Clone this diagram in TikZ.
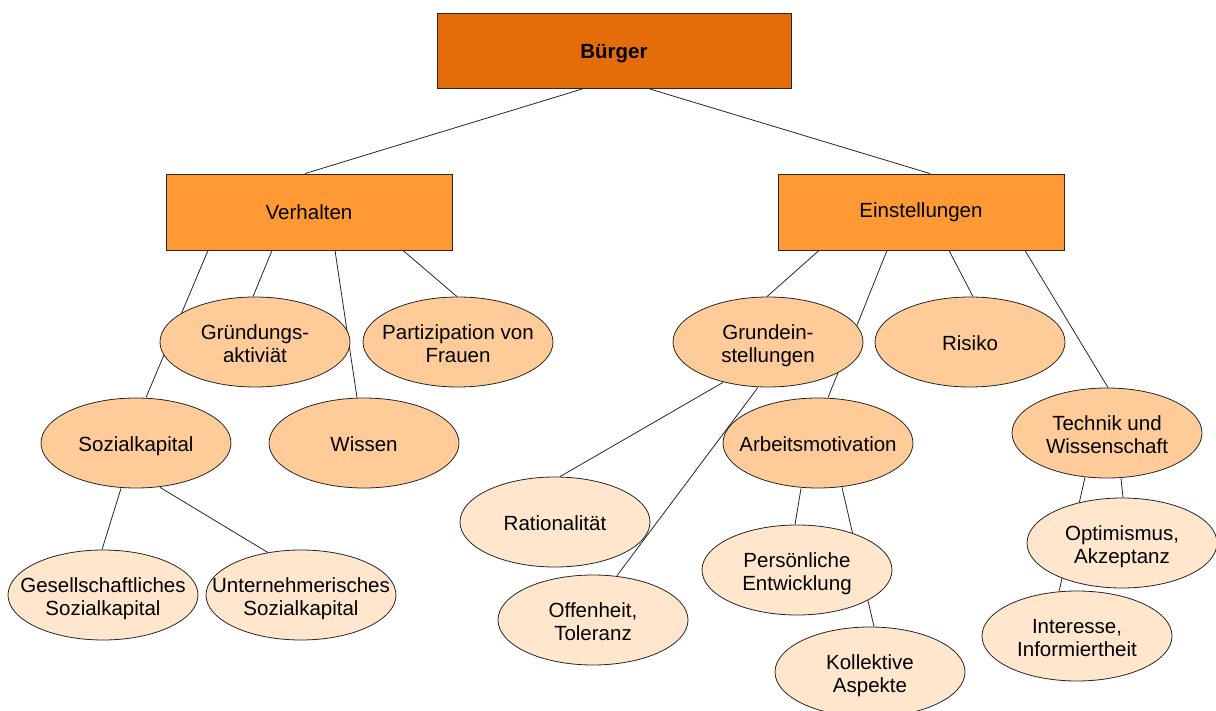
\documentclass[tikz,border=0pt]{standalone}
\usepackage{fontspec}
\setmainfont{Liberation Sans}
\usetikzlibrary{shapes.geometric}
\pgfdeclarelayer{background}
\pgfsetlayers{background,main}
\definecolor{topc}{RGB}{228,108,10}
\definecolor{midc}{RGB}{254,153,51}
\definecolor{elA}{RGB}{255,204,153}
\definecolor{elB}{RGB}{255,230,204}
\newcommand\lbl[1]{\makebox[0pt][c]{\raisebox{-4pt}[\height][\depth]{\begin{tabular}{@{}c@{}}#1\end{tabular}}}}
\tikzset{
  every node/.style={font=\fontsize{20.5}{23}\selectfont, inner sep=0pt},
  boxtop/.style={rectangle, draw=black!85, line width=0.9pt, fill=topc, minimum width=354, minimum height=75, font=\fontsize{20.5}{23}\selectfont\bfseries},
  boxmid/.style={rectangle, draw=black!85, line width=0.9pt, fill=midc, minimum width=286, minimum height=76},
  ellA/.style={ellipse, draw=black!85, line width=0.8pt, fill=elA, minimum width=190, minimum height=90},
  ellB/.style={ellipse, draw=black!85, line width=0.8pt, fill=elB, minimum width=190, minimum height=90},
  conn/.style={draw=black!85, line width=0.8pt}
}
\begin{document}
\begin{tikzpicture}[x=1pt,y=-1pt]
\useasboundingbox (0,0) rectangle (1216,711);
\clip (0,0) rectangle (1216,711);
% level 0/1
\node[boxtop] (b) at (614,50.5) {\raisebox{-3pt}[\height][\depth]{Bürger}};
\node[boxmid] (verh) at (309,212) {Verhalten};
\node[boxmid] (einst) at (921,212) {Einstellungen};
% level 2
\node[ellA] (gr) at (255,342) {\lbl{Gründungs-\\aktiviät}};
\node[ellA] (part) at (458,342) {\lbl{Partizipation von\\Frauen}};
\node[ellA] (soz) at (136,443) {\lbl{Sozialkapital}};
\node[ellA] (wis) at (364,443) {\lbl{Wissen}};
\node[ellA] (grund) at (768,342) {\lbl{Grundein-\\stellungen}};
\node[ellA] (ris) at (970,342) {\lbl{Risiko}};
\node[ellA] (arb) at (818,443) {\lbl{Arbeitsmotivation}};
\node[ellA] (tech) at (1107,433) {\lbl{Technik und\\Wissenschaft}};
% level 3
\node[ellB] (ges) at (103,595) {\lbl{Gesellschaftliches\\Sozialkapital}};
\node[ellB] (unt) at (301,595) {\lbl{Unternehmerisches\\Sozialkapital}};
\node[ellB] (rat) at (555,522) {\lbl{Rationalität}};
\node[ellB] (off) at (593,620) {\lbl{Offenheit,\\Toleranz}};
\node[ellB] (pers) at (797,570) {\lbl{Persönliche\\Entwicklung}};
\node[ellB] (koll) at (870,672) {\lbl{Kollektive\\Aspekte}};
\node[ellB] (opt) at (1122,543) {\lbl{Optimismus,\\Akzeptanz}};
\node[ellB] (int) at (1077,636) {\lbl{Interesse,\\Informiertheit}};
% connectors
\begin{pgfonlayer}{background}
\draw[conn] ([xshift=-30]b.south) -- ([xshift=-4]verh.north);
\draw[conn] ([xshift=34]b.south) -- ([xshift=9]einst.north);
\draw[conn] ([xshift=-101]verh.south) -- ([xshift=10]soz.north);
\draw[conn] ([xshift=-37]verh.south) -- ([xshift=-2]gr.north);
\draw[conn] ([xshift=26]verh.south) -- ([xshift=-7]wis.north);
\draw[conn] ([xshift=94]verh.south) -- ([xshift=-1]part.north);
\draw[conn] ([xshift=-102]einst.south) -- ([xshift=-1]grund.north);
\draw[conn] ([xshift=-34]einst.south) -- ([xshift=10]arb.north);
\draw[conn] ([xshift=28]einst.south) -- ([xshift=3]ris.north);
\draw[conn] ([xshift=104]einst.south) -- ([xshift=1]tech.north);
\draw[conn] ([xshift=-15]soz.south) -- ([xshift=-1]ges.north);
\draw[conn] ([xshift=24,yshift=1]soz.south) -- ([xshift=-33,yshift=-3]unt.north);
\draw[conn] ([xshift=-45,yshift=5]grund.south) -- ([xshift=5]rat.north);
\draw[conn] ([xshift=-10]grund.south) -- ([xshift=24,yshift=-1]off.north);
\draw[conn] ([xshift=-17]arb.south) -- ([xshift=-2]pers.north);
\draw[conn] ([xshift=24,yshift=1]arb.south) -- ([xshift=4]koll.north);
\draw[conn] ([xshift=-22,yshift=1]tech.south) -- ([xshift=-18,yshift=-1]int.north);
\draw[conn] ([xshift=14]tech.south) -- ([xshift=1]opt.north);
\end{pgfonlayer}
\end{tikzpicture}
\end{document}
